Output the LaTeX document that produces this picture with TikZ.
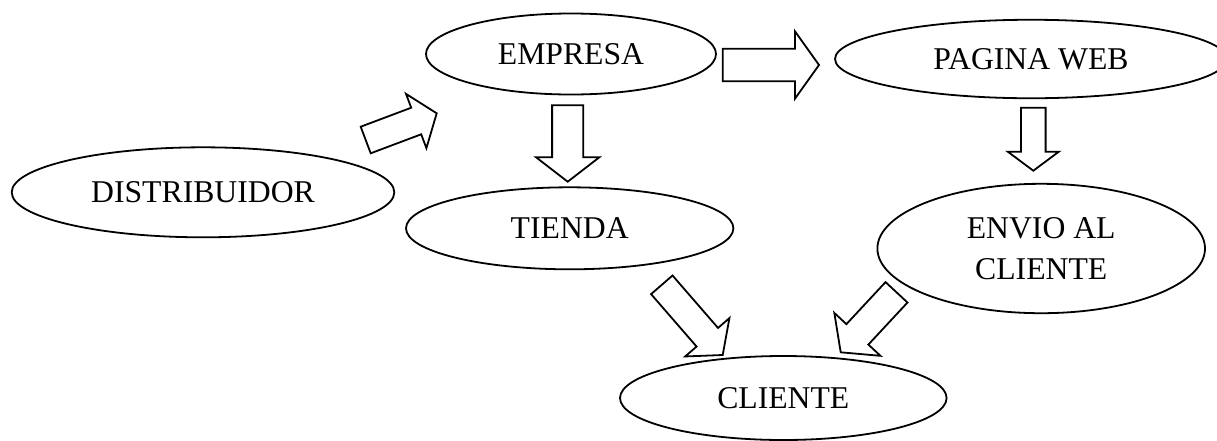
\documentclass[tikz,border=0pt]{standalone}
\usepackage{fontspec}
\setmainfont{Liberation Serif}
\usetikzlibrary{shapes.geometric,calc}
\tikzset{
  ell/.style={ellipse, draw, line width=1.8pt, inner sep=0pt, align=center,
    font=\fontsize{31.7}{40.6}\selectfont},
  barr/.style={draw, line width=1.8pt, fill=white, line join=miter}
}
% #1 tail coordinate, #2 tip coordinate, #3 half shaft width, #4 half head width, #5 head length
\newcommand\blockarr[5]{%
  \coordinate (hb-#1) at ($(#2)!#5!(#1)$);
  \draw[barr] ($(#1)!#3!90:(#2)$) -- ($(hb-#1)!#3!90:(#2)$) -- ($(hb-#1)!#4!90:(#2)$)
    -- (#2) -- ($(hb-#1)!#4!-90:(#2)$) -- ($(hb-#1)!#3!-90:(#2)$)
    -- ($(#1)!#3!-90:(#2)$) -- cycle;}
\begin{document}
\begin{tikzpicture}[x=1pt,y=-1pt]
\useasboundingbox (0,0) rectangle (1217,440);
% nodes
\node[ell, minimum width=382.6pt, minimum height=90pt] (dist) at (203,192.3) {DISTRIBUIDOR};
\node[ell, minimum width=290pt, minimum height=81pt] (emp) at (571,54) {EMPRESA};
\node[ell, minimum width=392pt, minimum height=78.5pt] (pag) at (1031,59) {PAGINA WEB};
\node[ell, minimum width=327.4pt, minimum height=82pt] (tienda) at (569.7,228.3) {TIENDA};
\node[ell, minimum width=327.6pt, minimum height=129.4pt] (envio) at (1041.2,248.5) {ENVIO AL\\CLIENTE};
\node[ell, minimum width=326.6pt, minimum height=84pt] (cliente) at (783.3,398) {CLIENTE};
% arrow anchor coordinates
\coordinate (a1s) at (365.7,140);   \coordinate (a1e) at (436.7,113.3);
\coordinate (a2s) at (567.7,105.3); \coordinate (a2e) at (567.7,181.7);
\coordinate (a3s) at (722.7,65);    \coordinate (a3e) at (819,65);
\coordinate (a4s) at (1033.3,107.7);\coordinate (a4e) at (1033.3,170.7);
\coordinate (a5s) at (661.8,284.8); \coordinate (a5e) at (722.7,355);
\coordinate (a6s) at (896.5,292.3); \coordinate (a6e) at (840.7,352.3);
% block arrows
\blockarr{a1s}{a1e}{14.2pt}{29pt}{21.9pt}
\blockarr{a2s}{a2e}{15.6pt}{31.6pt}{24.4pt}
\blockarr{a3s}{a3e}{16.2pt}{33.6pt}{24pt}
\blockarr{a4s}{a4e}{12.3pt}{25.5pt}{19pt}
\blockarr{a5s}{a5e}{14.2pt}{29.3pt}{23.5pt}
\blockarr{a6s}{a6e}{15pt}{31.5pt}{24.5pt}
\end{tikzpicture}
\end{document}
